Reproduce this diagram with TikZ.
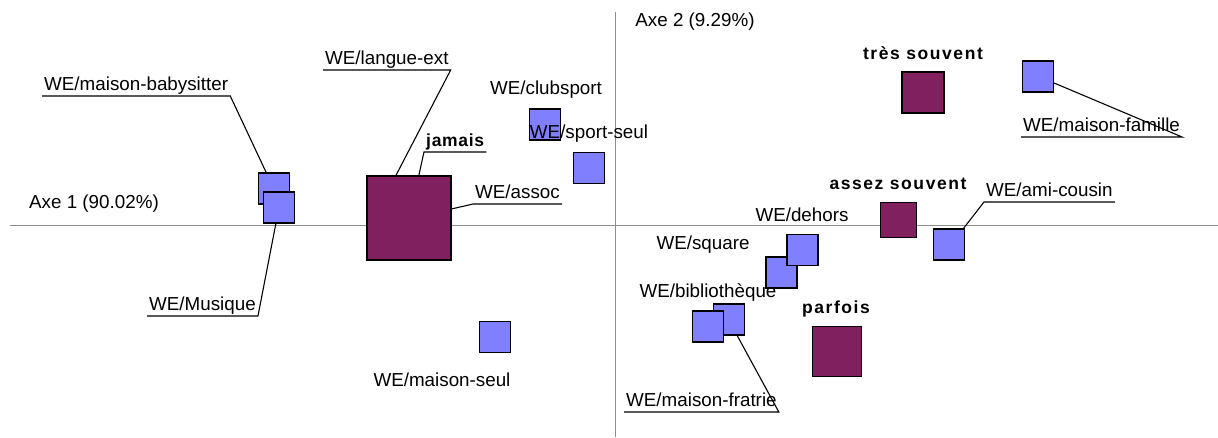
\documentclass[tikz,border=0pt]{standalone}
\usepackage{fontspec}
\setmainfont{Liberation Sans}
\begin{document}
\begin{tikzpicture}[x=1pt,y=-1pt,
  axis/.style={draw=black!45,line width=1pt},
  mod/.style={draw=black,line width=1.3pt,fill=modblue,minimum size=31pt,inner sep=0pt},
  freq/.style={draw=black,line width=1.3pt,fill=freqplum,inner sep=0pt},
  lbl/.style={font=\fontsize{18.8}{22}\selectfont,inner sep=0pt},
  ulbl/.style={font=\fontsize{18.8}{22}\selectfont,inner xsep=2pt,inner ysep=1pt,
    text height=13pt,text depth=4pt,anchor=south west},
  blbl/.style={font=\fontsize{17.5}{20}\selectfont\bfseries\addfontfeature{LetterSpace=9},inner sep=0pt},
  lead/.style={draw=black,line width=1.1pt}]
\definecolor{modblue}{RGB}{128,128,255}
\definecolor{freqplum}{RGB}{128,32,94}
\useasboundingbox (0,0) rectangle (1218,437);

% axes
\coordinate (xl) at (10,225);
\coordinate (xr) at (1218,225);
\coordinate (yt) at (615,12);
\coordinate (yb) at (615,437);
\draw[axis] (xl) -- (xr);
\draw[axis] (yt) -- (yb);
\node[lbl] (ax1) at (94,204) {Axe 1 (90.02\%)};
\node[lbl] (ax2) at (695,22) {Axe 2 (9.29\%)};

% frequency categories
\node[freq,minimum size=84pt] (jam) at (409,218) {};
\node[freq,minimum width=42pt,minimum height=41pt] (tres) at (923,92.5) {};
\node[freq,minimum size=35.5pt] (assez) at (898.5,220) {};
\node[freq,minimum size=49.5pt] (parf) at (837,351.5) {};

% week-end activities
\node[mod] (bsit) at (274,188.5) {};
\node[mod] (musq) at (279,207.5) {};
\node[mod] (club) at (545,124.5) {};
\node[mod] (sport) at (589,168) {};
\node[mod] (seul) at (495,337) {};
\node[mod] (squa) at (781.5,272.5) {};
\node[mod] (dehors) at (802.5,250) {};
\node[mod] (biblio) at (729,319.5) {};
\node[mod] (frat) at (708,326.5) {};
\node[mod] (fam) at (1038,76.5) {};
\node[mod] (ami) at (949,244.5) {};

% plain labels
\node[lbl] (lclub) at (546,90) {WE/clubsport};
\node[lbl] (lsport) at (589,134) {WE/sport-seul};
\node[lbl] (lseul) at (442,380) {WE/maison-seul};
\node[lbl] (ldehors) at (802,215) {WE/dehors};
\node[lbl] (lsqua) at (703,245) {WE/square};
\node[lbl] (lbiblio) at (708,293) {WE/bibliothèque};
\node[blbl] (ltres) at (923,53) {très souvent};
\node[blbl] (lassez) at (898,184) {assez souvent};
\node[blbl] (lparf) at (836,309) {parfois};

% underlined labels with leader lines
\node[ulbl] (lbsit) at (42,96) {WE/maison-babysitter};
\draw[lead] (lbsit.south west) -- (lbsit.south east) -- (bsit.116);
\node[ulbl] (lmusq) at (147,316) {WE/Musique};
\draw[lead] (lmusq.south west) -- (lmusq.south east) -- (musq.259);
\node[ulbl] (llang) at (323,70) {WE/langue-ext};
\draw[lead] (llang.south west) -- (llang.south east) -- (jam.107);
\node[ulbl,font=\fontsize{17.5}{20}\selectfont\bfseries\addfontfeature{LetterSpace=4}] (ljam) at (424,152) {jamais};
\draw[lead] (ljam.south east) -- (ljam.south west) -- (jam.77);
\node[ulbl] (lassoc) at (473,204) {WE/assoc};
\draw[lead] (lassoc.south east) -- (lassoc.south west) -- (jam.12);
\node[ulbl] (lfam) at (1021,137) {WE/maison-famille};
\draw[lead] (lfam.south west) -- (lfam.south east) -- (fam.-22);
\node[ulbl] (lami) at (984,202) {WE/ami-cousin};
\draw[lead] (lami.south east) -- (lami.south west) -- (ami.48);
\node[ulbl] (lfrat) at (624,412) {WE/maison-fratrie};
\draw[lead] (lfrat.south west) -- (lfrat.south east) -- (biblio.297);
\end{tikzpicture}
\end{document}
